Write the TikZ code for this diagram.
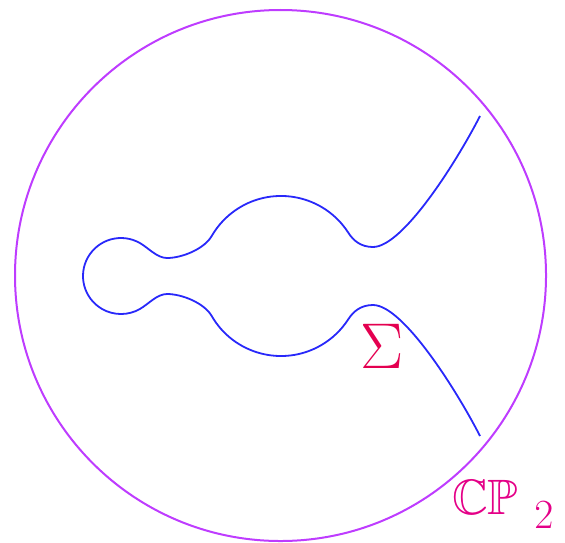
\documentclass[tikz,border=0pt]{standalone}
\usepackage{amsmath}
\usepackage{amssymb}
\definecolor{spaceviolet}{RGB}{190,60,255}
\definecolor{curveblue}{RGB}{40,40,250}
\definecolor{sigmared}{RGB}{228,0,80}
\definecolor{cppink}{RGB}{228,0,135}
\usetikzlibrary{positioning}

\begin{document}
\begin{tikzpicture}[
  x=0.5pt, y=0.5pt,
  space/.style={draw=spaceviolet, line width=1pt},
  curve/.style={draw=curveblue, line width=0.9pt},
  lab/.style={inner sep=0pt, outer sep=0pt, font=\Huge},
]
  \useasboundingbox (0,-266) rectangle (565,276);
  \draw[space] (280.5,0.5) circle (265.5);
  \draw[curve] (480,160) .. controls (457,115) and (403,29) .. (373,29)
    .. controls (361,29) and (353.4,35.2) .. (348.1,43.6)
    arc[start angle=33, end angle=150, radius=80]
    .. controls (204.2,27) and (182,18) .. (167,18)
    .. controls (157,18) and (148.7,27.9) .. (140,32.9)
    arc[start angle=60, end angle=300, radius=38]
    .. controls (148.7,-27.9) and (157,-18) .. (167,-18)
    .. controls (182,-18) and (204.2,-27) .. (211.7,-40)
    arc[start angle=210, end angle=327, radius=80]
    .. controls (353.4,-35.2) and (361,-29) .. (373,-29)
    .. controls (403,-29) and (457,-115) .. (480,-160);
  \node[lab, text=sigmared, scale=1.3, transform shape] (sigma) at (382,-70) {$\Sigma$};
  \node[lab, text=cppink, anchor=base west] (cp) at (452,-238) {$\mathbb{CP}$\kern8pt\raisebox{-7pt}{\huge$2$}};
\end{tikzpicture}
\end{document}
